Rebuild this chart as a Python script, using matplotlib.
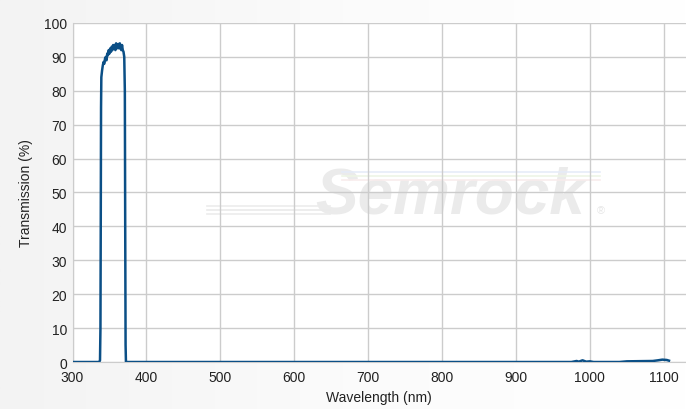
import matplotlib
matplotlib.use("Agg")
import matplotlib.pyplot as plt
import numpy as np

plt.rcParams["font.family"] = ["Liberation Sans", "DejaVu Sans"]

# transmission curve
wavelength = [300, 336, 337.2, 337.8, 338.2, 338.6, 339.0, 340, 341, 342, 343, 344, 345, 346, 347,
              348, 349, 350, 351, 352, 353, 354, 355, 356, 357, 358, 359, 360, 361, 362,
              363, 364, 365, 366, 367, 368, 369, 370, 370.8, 371.3, 371.8, 372.3, 373,
              600, 975, 982, 985, 990, 995, 1000, 1005, 1040, 1050, 1085, 1092, 1098, 1104, 1107]
transmission = [0, 0, 0.5, 10, 40, 75, 84, 86, 87.5, 88.5, 88, 89.5, 90, 89, 91,
                90.5, 92, 91, 92.5, 91.5, 93, 92, 93.5, 92.5, 93.5, 92, 94, 92.5, 93, 93.8,
                92.5, 94, 93, 92, 93.5, 92, 91.5, 90, 80, 40, 5, 0, 0,
                0, 0, 0.3, 0.1, 0.5, 0.1, 0.2, 0, 0, 0.2, 0.3, 0.5, 0.7, 0.6, 0.4]

x_ticks = [300, 400, 500, 600, 700, 800, 900, 1000, 1100]
y_ticks = [0, 10, 20, 30, 40, 50, 60, 70, 80, 90, 100]

fig = plt.figure(figsize=(6.86, 4.10), dpi=100)

# soft grey-to-white background
bg = fig.add_axes([0, 0, 1, 1], zorder=-10)
grad = np.linspace(0, 1, 256)[None, :]
bg.imshow(grad, aspect="auto", cmap=matplotlib.colors.LinearSegmentedColormap.from_list(
    "bg", ["#f3f3f3", "#fbfbfb", "#ffffff"]), extent=[0, 1, 0, 1])
bg.axis("off")

ax = fig.add_axes([0.1057, 0.1146, 0.8943, 0.8269])
ax.set_facecolor("white")
ax.set_xlim(300, 1130)
ax.set_ylim(0, 100)
ax.set_xticks(x_ticks)
ax.set_yticks(y_ticks)
ax.grid(True, color="#cccccc", linewidth=1)
ax.set_axisbelow(True)
ax.tick_params(length=0, labelsize=10, labelcolor="#222222", pad=4)
ax.tick_params(axis="x", pad=6)
for s in ["top", "right"]:
    ax.spines[s].set_visible(False)
for s in ["left", "bottom"]:
    ax.spines[s].set_color("#cccccc")

# watermark
ax.text(0.615, 0.49, "Semrock", transform=ax.transAxes, fontsize=46, fontweight="bold",
        fontstyle="italic", color="#ebebeb", ha="center", va="center", zorder=0)
ax.text(0.855, 0.44, "®", transform=ax.transAxes, fontsize=8, color="#e6e6e6", zorder=0)
for i, c in enumerate(["#ececec", "#eaeaea", "#ececec"]):
    ax.plot([0.22, 0.42], [0.46 - i * 0.012] * 2, transform=ax.transAxes, color=c, lw=1.2, zorder=0)
for i, c in enumerate(["#e6ecf8", "#eef5e6", "#f8ecec"]):
    ax.plot([0.44, 0.86], [0.56 - i * 0.012] * 2, transform=ax.transAxes, color=c, lw=1.2, zorder=0)

ax.plot(wavelength, transmission, color="#0b4f86", linewidth=1.8, zorder=3)

ax.set_xlabel("Wavelength (nm)", fontsize=10, color="#222222", labelpad=4)
ax.set_ylabel("Transmission (%)", fontsize=10, color="#222222", labelpad=8)

fig.savefig("out.png", dpi=100, facecolor=fig.get_facecolor())
